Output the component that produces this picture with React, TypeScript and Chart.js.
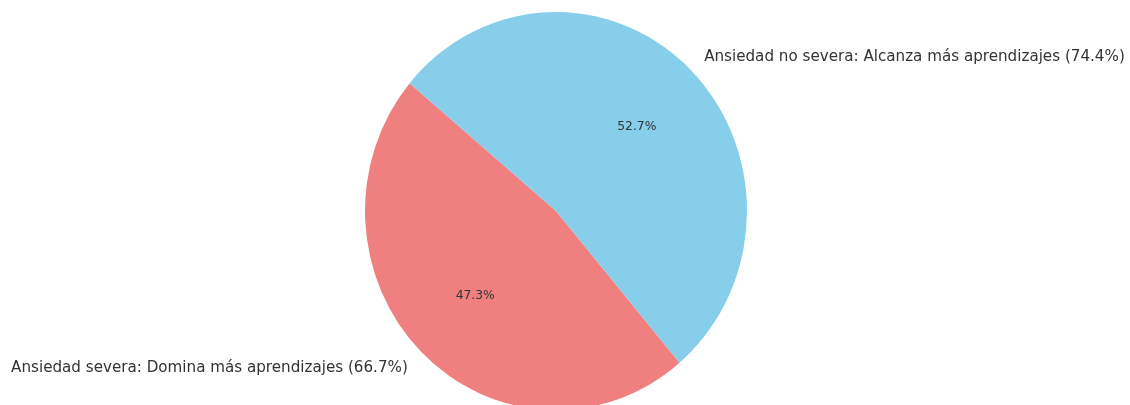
import React, { useEffect, useRef } from "react";
import { Chart, registerables } from "chart.js";

Chart.register(...registerables);

const categories: string[] = [
  "Ansiedad severa: Domina más aprendizajes (66.7%)",
  "Ansiedad no severa: Alcanza más aprendizajes (74.4%)",
];
const values: number[] = [47.3, 52.7];
const colors: string[] = ["#F08080", "#87CEEB"];

const Y_SCALE = 199 / 191;
const TEXT_COLOR = "#333333";
const FONT = "DejaVu Sans";

const ellipsePlugin = {
  id: "ellipse",
  beforeDatasetsDraw(chart: any) {
    const meta = chart.getDatasetMeta(0);
    const arc = meta.data[0];
    const ctx = chart.ctx;
    ctx.save();
    ctx.translate(arc.x, arc.y);
    ctx.scale(1, Y_SCALE);
    ctx.translate(-arc.x, -arc.y);
  },
  afterDatasetsDraw(chart: any) {
    chart.ctx.restore();
  },
};

const labelPlugin = {
  id: "pieLabels",
  afterDraw(chart: any) {
    const ctx = chart.ctx;
    const meta = chart.getDatasetMeta(0);
    const data: number[] = chart.data.datasets[0].data;
    const total = data.reduce((a, b) => a + b, 0);
    meta.data.forEach((arc: any, i: number) => {
      const mid = (arc.startAngle + arc.endAngle) / 2;
      const r = arc.outerRadius;
      const cx = arc.x;
      const cy = arc.y;
      const c = Math.cos(mid);
      const s = Math.sin(mid);
      // outer label
      const lx = cx + 1.1 * r * c;
      const ly = cy + 1.1 * r * s * Y_SCALE + 1.5;
      ctx.save();
      ctx.fillStyle = TEXT_COLOR;
      ctx.font = `15.15px '${FONT}'`;
      ctx.textBaseline = "middle";
      ctx.textAlign = c >= 0 ? "left" : "right";
      ctx.fillText(chart.data.labels[i], lx, ly);
      // percentage
      const px = cx + 0.6 * r * c;
      const py = cy + 0.6 * r * s * Y_SCALE + 0.5;
      ctx.font = `12.3px '${FONT}'`;
      ctx.textAlign = "center";
      ctx.fillText(((data[i] / total) * 100).toFixed(1) + "%", px, py);
      ctx.restore();
    });
  },
};

export default function App() {
  const ref = useRef<HTMLCanvasElement | null>(null);
  useEffect(() => {
    document.body.style.margin = "0";
    const canvas = ref.current;
    if (!canvas) return;
    const chart = new Chart(canvas, {
      type: "pie",
      data: {
        labels: categories,
        datasets: [
          {
            data: values,
            backgroundColor: colors,
            borderWidth: 0,
            clip: false as any,
          },
        ],
      },
      options: {
        responsive: false,
        animation: false,
        rotation: 139.7,
        layout: { padding: { top: 20, bottom: 3, left: 0, right: 18 } },
        plugins: {
          legend: { display: false },
          tooltip: { enabled: false },
        },
      },
      plugins: [ellipsePlugin, labelPlugin],
    });
    return () => chart.destroy();
  }, []);
  return (
    <div style={{ width: 1130, height: 405, background: "#ffffff" }}>
      <canvas ref={ref} width={1130} height={405} style={{ display: "block" }} />
    </div>
  );
}
